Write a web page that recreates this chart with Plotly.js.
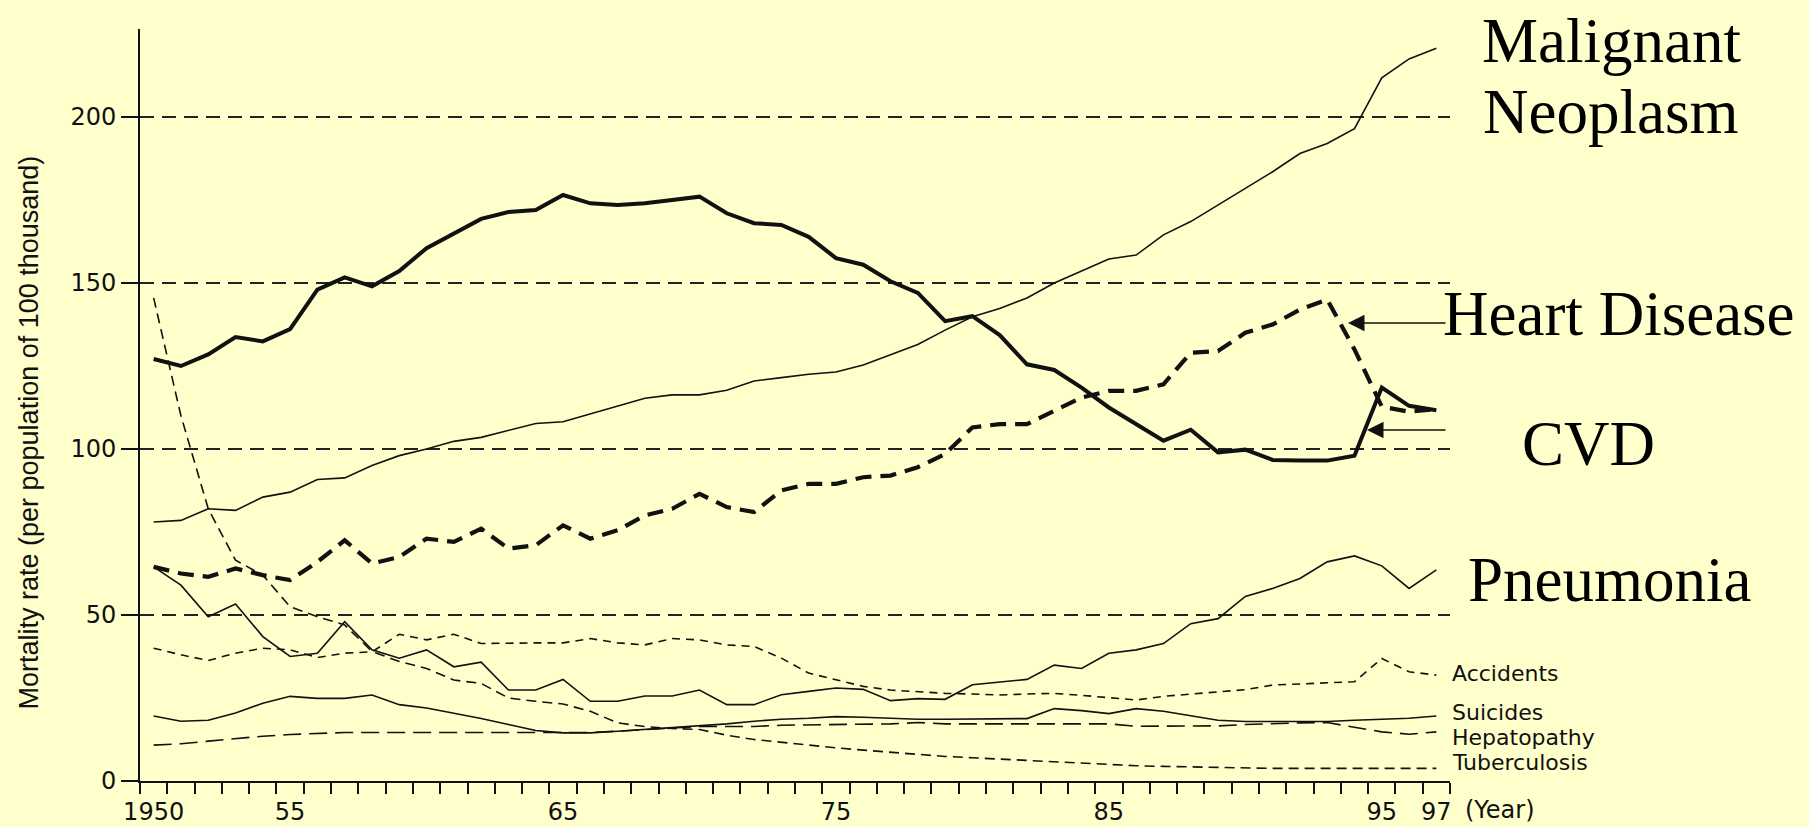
<!DOCTYPE html>
<html><head><meta charset="utf-8">
<script src="https://cdn.plot.ly/plotly-3.0.1.min.js"></script>
<style>html,body{margin:0;padding:0;background:#FFFFCC;} #chart{width:1809px;height:827px;}</style>
</head><body><div id="chart"></div>
<script>
const years = [1950,1951,1952,1953,1954,1955,1956,1957,1958,1959,1960,1961,1962,1963,1964,1965,1966,1967,1968,1969,1970,1971,1972,1973,1974,1975,1976,1977,1978,1979,1980,1981,1982,1983,1984,1985,1986,1987,1988,1989,1990,1991,1992,1993,1994,1995,1996,1997];

const malignantNeoplasm = [78.0,78.5,82.0,81.5,85.5,87.0,90.8,91.3,95.0,98.0,100.0,102.3,103.5,105.5,107.7,108.2,110.5,113.0,115.3,116.3,116.3,117.7,120.5,121.5,122.5,123.2,125.3,128.4,131.5,135.8,139.8,142.3,145.5,150.0,153.5,157.2,158.4,164.5,168.5,173.5,178.3,183.5,189.0,192.0,196.5,211.8,217.5,220.7];
const cvd = [127.1,125.0,128.5,133.7,132.4,136.1,148.0,151.7,149.0,153.6,160.5,165.0,169.3,171.4,172.0,176.5,174.0,173.5,174.0,175.0,176.0,171.0,168.0,167.5,163.9,157.5,155.5,150.5,147.0,138.5,140.0,134.3,125.5,123.8,118.5,112.5,107.5,102.5,105.8,99.0,99.8,96.7,96.5,96.5,98.0,118.5,113.0,111.7];
const heartDisease = [64.5,62.5,61.5,64.0,62.0,60.5,66.0,72.5,65.5,67.5,73.0,72.0,76.0,70.0,71.0,77.0,73.0,75.5,80.0,82.0,86.5,82.5,81.0,87.5,89.5,89.5,91.5,92.0,94.5,98.5,106.5,107.5,107.5,111.5,115.5,117.5,117.5,119.5,129.0,129.5,135.0,137.5,142.0,145.0,130.0,112.8,111.2,112.0];
const pneumonia = [64.5,59.0,49.5,53.3,43.5,37.5,38.5,48.0,39.5,37.0,39.5,34.4,35.8,27.4,27.4,30.6,24.0,24.0,25.6,25.6,27.4,23.0,23.0,26.0,27.0,28.0,27.6,24.2,24.8,24.6,29.0,29.8,30.6,34.9,33.9,38.5,39.5,41.4,47.4,48.9,55.6,58.0,61.0,66.0,67.8,64.8,58.0,63.6];
const accidents = [40.0,38.0,36.3,38.5,40.0,39.5,37.2,38.5,38.9,44.2,42.5,44.2,41.4,41.6,41.6,41.6,42.9,41.6,41.0,42.9,42.5,41.0,40.5,37.0,32.5,30.5,28.5,27.4,26.8,26.4,26.2,25.9,26.2,26.4,25.8,25.2,24.4,25.5,26.2,26.8,27.5,28.9,29.2,29.4,29.9,36.9,32.9,31.9];
const suicides = [19.6,18.0,18.3,20.5,23.4,25.5,24.9,24.9,25.9,23.0,22.0,20.5,18.8,17.0,15.2,14.5,14.5,15.0,15.5,16.2,16.6,17.2,18.0,18.6,18.9,19.4,19.2,18.8,18.6,18.6,18.6,18.6,18.8,21.8,21.2,20.3,21.8,21.0,19.6,18.3,17.9,17.9,18.0,17.9,18.3,18.6,18.9,19.6];
const hepatopathy = [10.8,11.2,12.0,12.8,13.5,14.0,14.3,14.6,14.6,14.6,14.6,14.6,14.6,14.6,14.6,14.6,14.6,15.0,15.5,16.0,16.4,16.4,16.4,16.8,16.9,16.9,16.9,17.2,17.6,17.2,17.2,17.2,17.2,17.2,17.2,17.2,16.5,16.5,16.6,16.6,17.0,17.3,17.5,17.6,16.2,14.8,14.1,14.8];
const tuberculosis = [145.5,110.0,82.0,66.5,62.0,52.5,49.5,47.0,39.0,36.0,33.9,30.4,29.4,25.0,24.0,23.2,21.0,17.5,16.4,15.8,15.5,13.8,12.5,11.6,10.8,10.0,9.3,8.6,8.0,7.4,7.0,6.6,6.1,5.6,5.2,4.8,4.6,4.4,4.2,4.0,3.8,3.8,3.8,3.8,3.8,3.8,3.8,3.8];

const xTickVals = [1950,1955,1965,1975,1985,1995,1997];
const xTickText = ['1950','55','65','75','85','95','97'];
const yTickVals = [0,50,100,150,200];
const yTickText = ['0','50','100','150','200'];

const INK = '#111111';
const BG = '#FFFFCC';

function line(y, width, dash) {
  return {x: years, y: y, mode: 'lines', type: 'scatter', hoverinfo: 'skip', showlegend: false,
          line: {color: INK, width: width, dash: dash}};
}

const traces = [
  line(hepatopathy, 1.6, '18px,8px'),
  line(tuberculosis, 1.6, '10px,6px'),
  line(suicides, 1.6, 'solid'),
  line(accidents, 1.6, '8px,6px'),
  line(pneumonia, 1.6, 'solid'),
  line(malignantNeoplasm, 1.6, 'solid'),
  line(heartDisease, 4.2, '16px,9px'),
  line(cvd, 4, 'solid')
];

// plot area geometry (pixels)
const L = 140, R = 1450, T = 29, B = 781;
const px = v => (v - L) / (R - L);
const py = v => (B - v) / (B - T);

const serif = {family: 'Liberation Serif, Times New Roman, serif', size: 63, color: '#000'};
const small = {family: 'DejaVu Sans, sans-serif', size: 22, color: INK};

function label(text, x, y, font) {
  return {text: text, xref: 'paper', yref: 'paper', x: px(x), y: py(y), xanchor: 'left', yanchor: 'middle',
          showarrow: false, font: font};
}
function arrow(tipX, tipY, fromX) {
  return {text: '', xref: 'paper', yref: 'paper', x: px(tipX), y: py(tipY), ax: fromX - tipX, ay: 0,
          axref: 'pixel', ayref: 'pixel', showarrow: true, arrowhead: 2, arrowsize: 2.2, arrowwidth: 1.5,
          arrowcolor: INK, standoff: 0, startstandoff: 0};
}

const annotations = [
  label('Malignant', 1480, 40.5, serif),
  label('Neoplasm', 1481, 111.5, serif),
  label('Heart Disease', 1441, 314, serif),
  label('CVD', 1520, 444, serif),
  label('Pneumonia', 1466, 580, serif),
  label('Accidents', 1450, 673, small),
  label('Suicides', 1450, 712, small),
  label('Hepatopathy', 1450, 737, small),
  label('Tuberculosis', 1450, 762, small),
  label('(Year)', 1463, 810, {family: 'DejaVu Sans, sans-serif', size: 24, color: INK}),
  arrow(1348, 323, 1447),
  arrow(1367, 430, 1447),
  {text: 'Mortality rate (per population of 100 thousand)', xref: 'paper', yref: 'paper',
   x: px(29), y: py(432.5), xanchor: 'center', yanchor: 'middle', textangle: -90, showarrow: false,
   font: {family: 'Liberation Sans, Arial, sans-serif', size: 27, color: INK}}
];

const tickStyle = {ticks: 'outside', ticklen: 11, tickwidth: 2, tickcolor: INK};

const layout = {
  width: 1809, height: 827,
  margin: {l: L, r: 1809 - R, t: T, b: 827 - B, pad: 0},
  paper_bgcolor: BG, plot_bgcolor: BG,
  showlegend: false,
  xaxis: {
    range: [1949.5, 1997.5], fixedrange: true,
    tickmode: 'array', tickvals: xTickVals, ticktext: xTickText,
    ticks: '', ticklabelstandoff: 8,
    minor: Object.assign({tickmode: 'linear', tick0: 1949.5, dtick: 1, showgrid: false}, tickStyle),
    showline: true, linecolor: INK, linewidth: 2, showgrid: false, zeroline: false,
    tickfont: {family: 'DejaVu Sans, sans-serif', size: 24, color: INK}
  },
  xaxis2: Object.assign({
    overlaying: 'x', anchor: 'y', side: 'bottom', matches: 'x',
    range: [1949.5, 1997.5], fixedrange: true,
    tickmode: 'linear', tick0: 1949.5, dtick: 1, showticklabels: false,
    showline: false, showgrid: false, zeroline: false
  }, tickStyle),
  yaxis: {
    range: [0, 226.5], fixedrange: true,
    tickmode: 'array', tickvals: yTickVals, ticktext: yTickText,
    ticks: 'outside', ticklen: 17, tickwidth: 2, tickcolor: INK,
    showline: true, linecolor: INK, linewidth: 2,
    showgrid: true, gridcolor: '#222222', gridwidth: 2, griddash: '14px,8px', zeroline: false,
    tickfont: {family: 'DejaVu Sans, sans-serif', size: 24, color: INK}
  },
  annotations: annotations
};

Plotly.newPlot('chart', traces, layout, {displayModeBar: false, staticPlot: true});
</script>
</body></html>
